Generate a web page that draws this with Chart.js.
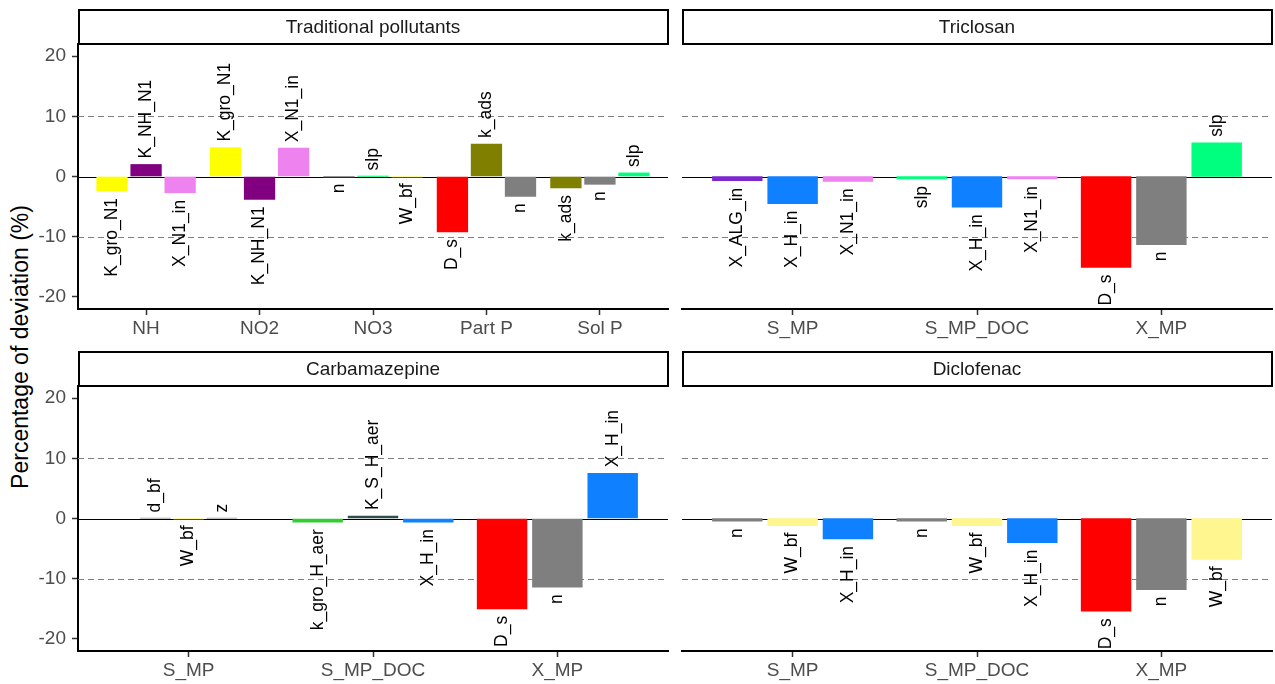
<!DOCTYPE html>
<html>
<head>
<meta charset="utf-8">
<script src="https://cdn.jsdelivr.net/npm/chart.js@4.4.0/dist/chart.umd.min.js"></script>
<style>
  body { margin: 0; background: #fff; }
  #wrap { position: relative; width: 1275px; height: 684px; overflow: hidden; }
  canvas { position: absolute; }
  #ytitle {
    position: absolute; left: 20px; top: 347px;
    transform: translate(-50%, -50%) rotate(-90deg);
    font: 23px "Liberation Sans", Arial, sans-serif; color: #000; white-space: nowrap;
  }
</style>
</head>
<body>
<div id="wrap">
  <div id="ytitle">Percentage of deviation (%)</div>
  <canvas id="trad" width="672" height="342" style="left:0;top:0"></canvas>
  <canvas id="tric" width="603" height="342" style="left:672px;top:0"></canvas>
  <canvas id="carb" width="672" height="342" style="left:0;top:342px"></canvas>
  <canvas id="dicl" width="603" height="342" style="left:672px;top:342px"></canvas>
</div>
<script>
const yTicks = [-20, -10, 0, 10, 20];
const refLines = [-10, 10];

// Traditional pollutants
const tradCategories = ["NH", "NO2", "NO3", "Part P", "Sol P"];
const tradParams = [
  ["K_gro_N1", "K_NH_N1", "X_N1_in"],
  ["K_gro_N1", "K_NH_N1", "X_N1_in"],
  ["n", "slp", "W_bf"],
  ["D_s", "k_ads", "n"],
  ["k_ads", "n", "slp"]
];
const tradValues = [
  [-2.4, 2.0, -2.7],
  [4.8, -3.8, 4.7],
  [-0.001, 0.001, -0.001],
  [-9.2, 5.4, -3.3],
  [-1.9, -1.3, 0.6]
];

// Triclosan
const tricCategories = ["S_MP", "S_MP_DOC", "X_MP"];
const tricParams = [
  ["X_ALG_in", "X_H_in", "X_N1_in"],
  ["slp", "X_H_in", "X_N1_in"],
  ["D_s", "n", "slp"]
];
const tricValues = [
  [-0.7, -4.5, -0.8],
  [-0.4, -5.1, -0.4],
  [-15.1, -11.3, 5.6]
];

// Carbamazepine (S_MP has two empty slots)
const carbCategories = ["S_MP", "S_MP_DOC", "X_MP"];
const carbParams = [
  ["", "d_bf", "W_bf", "z", ""],
  ["k_gro_H_aer", "K_S_H_aer", "X_H_in"],
  ["D_s", "n", "X_H_in"]
];
const carbValues = [
  [null, 0.001, -0.001, 0.001, null],
  [-0.6, 0.4, -0.6],
  [-15.0, -11.4, 7.5]
];

// Diclofenac
const diclCategories = ["S_MP", "S_MP_DOC", "X_MP"];
const diclParams = [
  ["n", "W_bf", "X_H_in"],
  ["n", "W_bf", "X_H_in"],
  ["D_s", "n", "W_bf"]
];
const diclValues = [
  [-0.45, -1.2, -3.4],
  [-0.45, -1.2, -4.0],
  [-15.4, -11.8, -6.8]
];

const paramColors = {
  K_gro_N1: "#FFFF00",
  K_NH_N1: "#800080",
  X_N1_in: "#EE82EE",
  D_s: "#FF0000",
  k_ads: "#808000",
  n: "#7F7F7F",
  slp: "#00FF7F",
  W_bf: "#FFF68F",
  X_ALG_in: "#7D26CD",
  X_H_in: "#0F80FF",
  k_gro_H_aer: "#32CD32",
  K_S_H_aer: "#2F4F4F",
  d_bf: "#B0B0B0",
  z: "#B0B0B0"
};

const FONT = "'Liberation Sans', Arial, sans-serif";
const PLOT_W = 590;

const stripPlugin = {
  id: "strip",
  afterDraw(chart, args, opts) {
    const { ctx, chartArea: a } = chart;
    ctx.save();
    ctx.fillStyle = "#fff";
    ctx.strokeStyle = "#000";
    ctx.lineWidth = 2;
    ctx.fillRect(a.left + 1, 10, a.right - a.left - 1, 34);
    ctx.strokeRect(a.left + 1, 10, a.right - a.left - 1, 34);
    ctx.fillStyle = "#1A1A1A";
    ctx.font = "19px " + FONT;
    ctx.textAlign = "center";
    ctx.textBaseline = "middle";
    ctx.fillText(opts.text, (a.left + a.right) / 2, 28);
    ctx.restore();
  }
};

const refPlugin = {
  id: "refLines",
  beforeDatasetsDraw(chart) {
    const { ctx, chartArea: a, scales } = chart;
    ctx.save();
    ctx.strokeStyle = "#7F7F7F";
    ctx.lineWidth = 1.2;
    ctx.setLineDash([6, 4]);
    refLines.forEach(v => {
      const y = Math.round(scales.y.getPixelForValue(v)) + 0.5;
      ctx.beginPath();
      ctx.moveTo(a.left, y);
      ctx.lineTo(a.right, y);
      ctx.stroke();
    });
    ctx.setLineDash([]);
    ctx.strokeStyle = "#000";
    ctx.lineWidth = 1;
    const y0 = Math.round(scales.y.getPixelForValue(0)) + 0.5;
    ctx.beginPath();
    ctx.moveTo(a.left, y0);
    ctx.lineTo(a.right, y0);
    ctx.stroke();
    ctx.restore();
  }
};

const labelPlugin = {
  id: "barLabels",
  afterDatasetsDraw(chart) {
    const ctx = chart.ctx;
    ctx.save();
    ctx.fillStyle = "#000";
    ctx.font = "17.5px " + FONT;
    ctx.textBaseline = "middle";
    chart.data.datasets.forEach((ds, i) => {
      const meta = chart.getDatasetMeta(i);
      meta.data.forEach((el, j) => {
        const v = ds.data[j].y;
        const txt = ds.labelsText[j];
        if (v === null || !txt) return;
        const pos = v >= 0;
        ctx.save();
        ctx.translate(el.x, pos ? el.y - 6 : el.y + 7);
        ctx.rotate(-Math.PI / 2);
        ctx.textAlign = pos ? "left" : "right";
        ctx.fillText(txt, 0, 0);
        ctx.restore();
      });
    });
    ctx.restore();
  }
};

function makePanel(id, title, cats, params, values, showY) {
  const unit = PLOT_W / (cats.length + 0.2);
  const datasets = cats.map((c, i) => {
    const n = params[i].length;
    return {
      data: values[i].map((v, j) => ({ x: i + 1 + (j - (n - 1) / 2) * 0.9 / n, y: v })),
      labelsText: params[i],
      backgroundColor: params[i].map(p => paramColors[p] || "#7F7F7F"),
      borderWidth: 0,
      barThickness: unit * 0.81 / n,
      grouped: false
    };
  });

  new Chart(document.getElementById(id), {
    type: "bar",
    data: { datasets: datasets },
    options: {
      responsive: false,
      animation: false,
      devicePixelRatio: 1,
      layout: { padding: { top: 44, left: showY ? 0 : 10, right: showY ? 4 : 3, bottom: 0 } },
      plugins: {
        legend: { display: false },
        tooltip: { enabled: false },
        strip: { text: title }
      },
      scales: {
        x: {
          type: "linear",
          min: 0.4,
          max: cats.length + 0.6,
          offset: false,
          afterBuildTicks: s => { s.ticks = cats.map((c, i) => ({ value: i + 1 })); },
          afterFit: s => { s.height = 33; },
          ticks: {
            callback: v => cats[v - 1],
            color: "#4D4D4D",
            font: { family: FONT, size: 19 },
            padding: 2,
            autoSkip: false,
            maxRotation: 0
          },
          grid: { drawOnChartArea: false, offset: false, tickLength: 6, tickColor: "#333", tickWidth: 1.5 },
          border: { display: true, color: "#000", width: 2 }
        },
        y: {
          min: -22,
          max: 22,
          display: showY,
          afterBuildTicks: s => { s.ticks = yTicks.map(v => ({ value: v })); },
          afterFit: s => { s.width = showY ? 78 : 0; },
          ticks: {
            color: "#4D4D4D",
            font: { family: FONT, size: 19 },
            padding: 6
          },
          grid: { drawOnChartArea: false, tickLength: 6, tickColor: "#333", tickWidth: 1.5 },
          border: { display: true, color: "#000", width: 2 }
        }
      }
    },
    plugins: [stripPlugin, refPlugin, labelPlugin]
  });
}

makePanel("trad", "Traditional pollutants", tradCategories, tradParams, tradValues, true);
makePanel("tric", "Triclosan", tricCategories, tricParams, tricValues, false);
makePanel("carb", "Carbamazepine", carbCategories, carbParams, carbValues, true);
makePanel("dicl", "Diclofenac", diclCategories, diclParams, diclValues, false);
</script>
</body>
</html>
